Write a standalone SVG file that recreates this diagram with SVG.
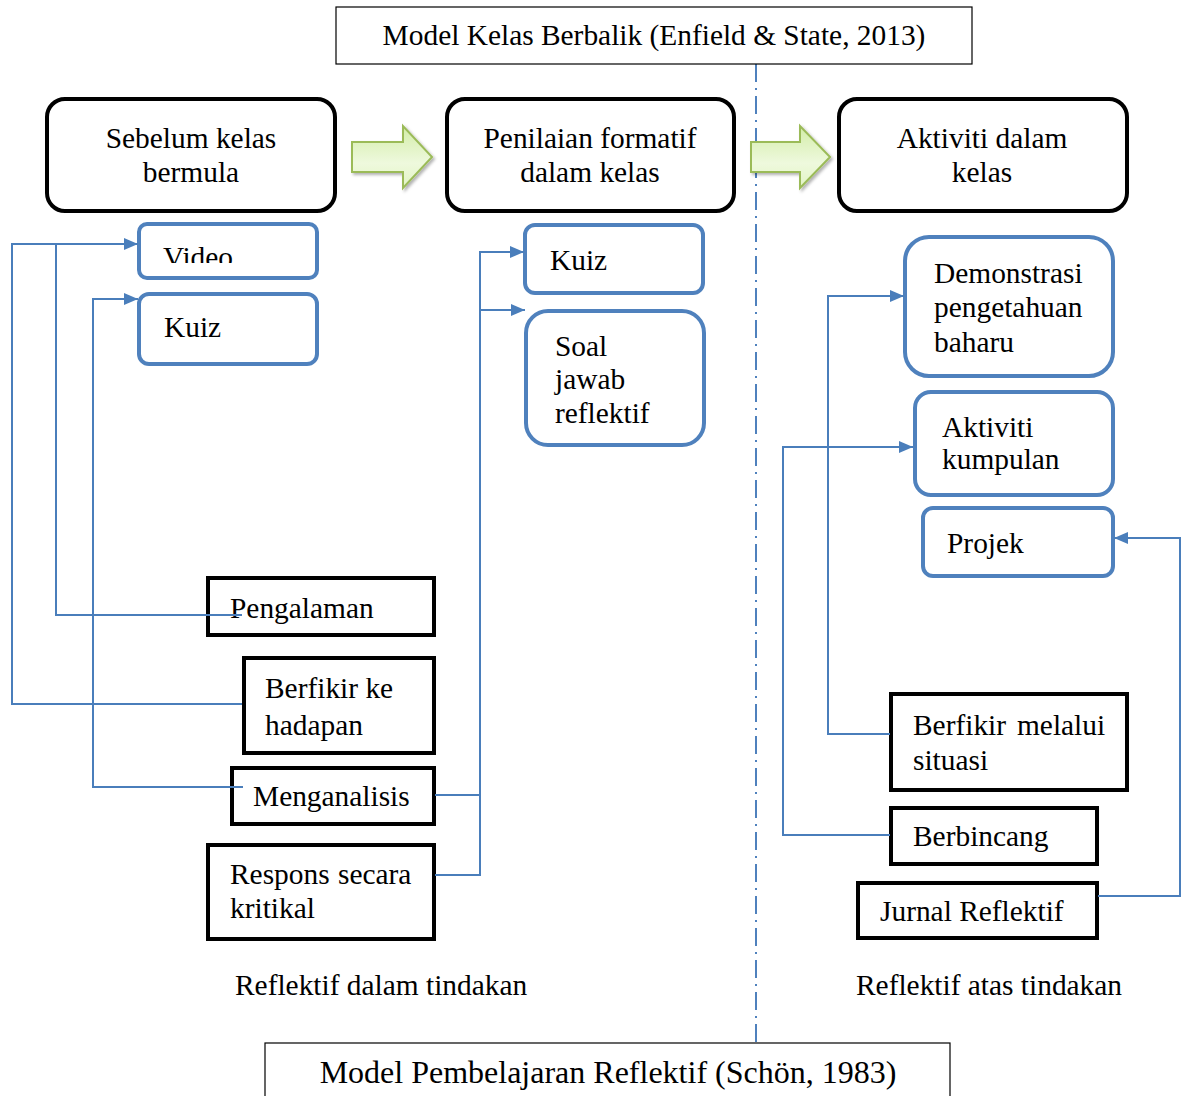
<svg xmlns="http://www.w3.org/2000/svg" width="1181" height="1096" viewBox="0 0 1181 1096">
<style>
  text{font-family:"Liberation Serif","Times New Roman",serif;font-size:29.4px;fill:#000}
  .c{text-anchor:middle}
  .big{font-size:32px}
  .blk{fill:#fff;stroke:#000;stroke-width:4}
  .blu{fill:#fff;stroke:#4F81BD;stroke-width:4}
  .ttl{fill:#fff;stroke:#000;stroke-width:1.2}
  .con{fill:none;stroke:#4A7EBB;stroke-width:2}
  .grn{fill:url(#g);stroke:#9BBB59;stroke-width:2;filter:url(#sh)}
</style>
<defs>
  <marker id="ah" viewBox="0 0 14 12" refX="14" refY="6" markerWidth="14" markerHeight="12" markerUnits="userSpaceOnUse" orient="auto">
    <path d="M0,0 L14,6 L0,12 z" fill="#4A7EBB"/>
  </marker>
  <linearGradient id="g" x1="0" y1="0" x2="0" y2="1">
    <stop offset="0" stop-color="#D3EDA8"/>
    <stop offset="0.6" stop-color="#EEF9DD"/>
    <stop offset="1" stop-color="#E2F4C4"/>
  </linearGradient>
  <filter id="sh" x="-20%" y="-20%" width="150%" height="150%">
    <feDropShadow dx="2" dy="2" stdDeviation="1.5" flood-color="#000" flood-opacity="0.3"/>
  </filter>
  <clipPath id="vclip"><rect x="140" y="225" width="176" height="38"/></clipPath>
</defs>

<rect width="1181" height="1096" fill="#fff"/>

<g id="divider">
  <line x1="756" y1="64" x2="756" y2="1043" stroke="#4F81BD" stroke-width="2" stroke-dasharray="18 6 2 6"/>
</g>

<g id="title-top">
  <rect class="ttl" x="336" y="7" width="636" height="57"/>
  <text class="c" x="654" y="45">Model Kelas Berbalik (Enfield &amp; State, 2013)</text>
</g>
<g id="title-bottom">
  <rect class="ttl" x="265" y="1043" width="685" height="60"/>
  <text class="c big" x="608" y="1083">Model Pembelajaran Reflektif (Schön, 1983)</text>
</g>

<g id="arrow1"><path class="grn" d="M352,142 H403 V126 L432,157 L403,188 V172 H352 z"/></g>
<g id="arrow2"><path class="grn" d="M751,142 H800 V126 L830,157 L800,188 V172 H751 z"/></g>

<g id="sebelum">
  <rect class="blk" x="47" y="99" width="288" height="112" rx="18"/>
  <text class="c" x="191" y="148">Sebelum kelas</text>
  <text class="c" x="191" y="182">bermula</text>
</g>
<g id="penilaian">
  <rect class="blk" x="447" y="99" width="287" height="112" rx="18"/>
  <text class="c" x="590" y="148">Penilaian formatif</text>
  <text class="c" x="590" y="182">dalam kelas</text>
</g>
<g id="aktiviti-dalam">
  <rect class="blk" x="839" y="99" width="288" height="112" rx="18"/>
  <text class="c" x="982" y="148">Aktiviti dalam</text>
  <text class="c" x="982" y="182">kelas</text>
</g>

<g id="video">
  <rect class="blu" x="139" y="224" width="178" height="54" rx="8"/>
  <text x="163" y="267" clip-path="url(#vclip)">Video</text>
</g>
<g id="kuiz1">
  <rect class="blu" x="139" y="294" width="178" height="70" rx="10"/>
  <text x="164" y="337">Kuiz</text>
</g>
<g id="kuiz2">
  <rect class="blu" x="525" y="225" width="178" height="68" rx="10"/>
  <text x="550" y="270">Kuiz</text>
</g>
<g id="soal">
  <rect class="blu" x="526" y="311" width="178" height="134" rx="22"/>
  <text x="555" y="356">Soal</text>
  <text x="555" y="389">jawab</text>
  <text x="555" y="423">reflektif</text>
</g>
<g id="demonstrasi">
  <rect class="blu" x="905" y="237" width="208" height="139" rx="24"/>
  <text x="934" y="283">Demonstrasi</text>
  <text x="934" y="317">pengetahuan</text>
  <text x="934" y="352">baharu</text>
</g>
<g id="aktiviti-kumpulan">
  <rect class="blu" x="915" y="392" width="198" height="103" rx="16"/>
  <text x="942" y="437">Aktiviti</text>
  <text x="942" y="469">kumpulan</text>
</g>
<g id="projek">
  <rect class="blu" x="923" y="508" width="190" height="68" rx="10"/>
  <text x="947" y="553">Projek</text>
</g>

<g id="pengalaman">
  <rect class="blk" x="208" y="578" width="226" height="57"/>
  <text x="230" y="618">Pengalaman</text>
</g>
<g id="berfikir-hadapan">
  <rect class="blk" x="244" y="658" width="190" height="95"/>
  <text x="265" y="698">Berfikir ke</text>
  <text x="265" y="735">hadapan</text>
</g>
<g id="menganalisis">
  <rect class="blk" x="232" y="768" width="202" height="56"/>
  <text x="253" y="806">Menganalisis</text>
</g>
<g id="respons">
  <rect class="blk" x="208" y="845" width="226" height="94"/>
  <text x="230" y="884">Respons</text>
  <text x="338" y="884">secara</text>
  <text x="230" y="918">kritikal</text>
</g>
<g id="berfikir-situasi">
  <rect class="blk" x="891" y="694" width="236" height="96"/>
  <text x="913" y="735">Berfikir</text>
  <text x="1017" y="735">melalui</text>
  <text x="913" y="770">situasi</text>
</g>
<g id="berbincang">
  <rect class="blk" x="891" y="808" width="206" height="56"/>
  <text x="913" y="846">Berbincang</text>
</g>
<g id="jurnal">
  <rect class="blk" x="858" y="883" width="239" height="55"/>
  <text x="880" y="921">Jurnal Reflektif</text>
</g>

<g id="label-dalam"><text x="235" y="995">Reflektif dalam tindakan</text></g>
<g id="label-atas"><text x="856" y="995">Reflektif atas tindakan</text></g>

<g id="connectors">
  <path class="con" d="M242,615 H56 V244"/>
  <path class="con" d="M242,704 H12 V244 H138" marker-end="url(#ah)"/>
  <path class="con" d="M243,787 H93 V299 H138" marker-end="url(#ah)"/>
  <path class="con" d="M435,795 H480 V252 H524" marker-end="url(#ah)"/>
  <path class="con" d="M480,310 H525" marker-end="url(#ah)"/>
  <path class="con" d="M435,875 H480 V795"/>
  <path class="con" d="M890,734 H828 V296 H904" marker-end="url(#ah)"/>
  <path class="con" d="M890,835 H783 V447 H913" marker-end="url(#ah)"/>
  <path class="con" d="M1098,896 H1180 V538 H1114" marker-end="url(#ah)"/>
</g>
</svg>
